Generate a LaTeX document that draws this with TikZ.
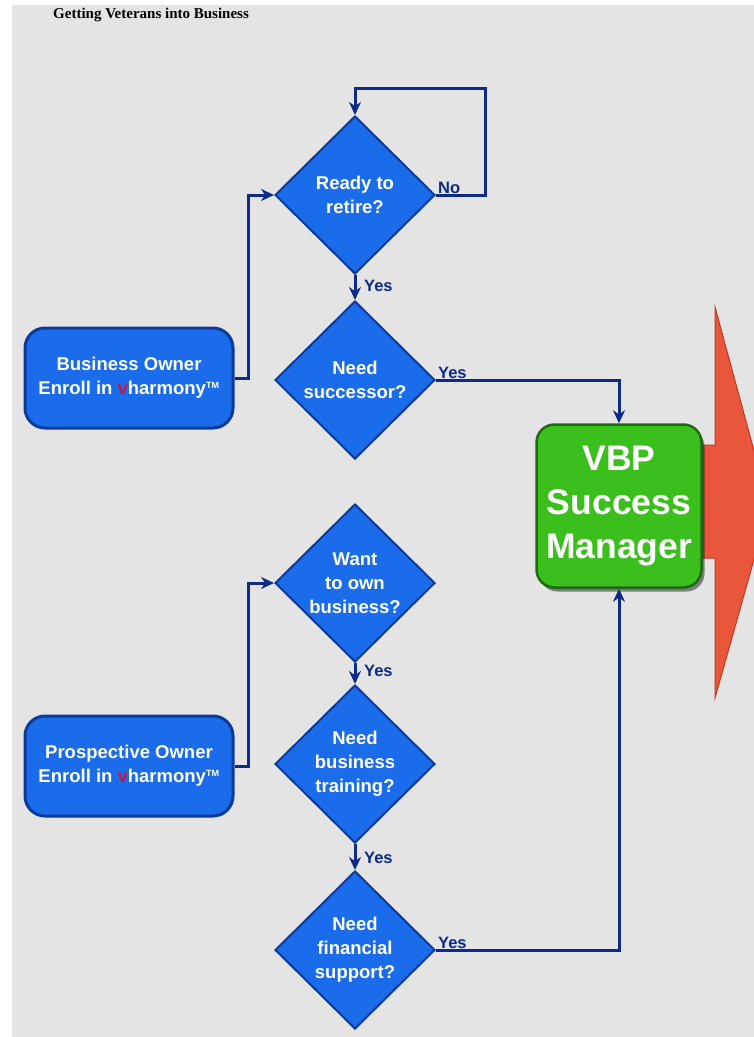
\documentclass[tikz,border=0pt]{standalone}
\usepackage{fontspec}
\setmainfont{Liberation Sans}
\newfontfamily\ttlfont{Liberation Serif}
\usetikzlibrary{shapes.geometric,arrows.meta,shadows,calc}
\definecolor{bg}{HTML}{E4E4E4}
\definecolor{bluefill}{HTML}{1B6CEA}
\definecolor{blueedge}{HTML}{0B3A9C}
\definecolor{navy}{HTML}{0C2A86}
\definecolor{greenfill}{HTML}{3BBF1C}
\definecolor{greenedge}{HTML}{1E6A12}
\definecolor{redfill}{HTML}{E8563C}
\definecolor{rededge}{HTML}{C0391F}
\definecolor{vred}{HTML}{C8143C}
\tikzset{
  startbox/.style={rectangle, rounded corners=20pt, fill=bluefill, draw=blueedge, line width=3pt,
    minimum width=208pt, minimum height=100pt, text=white, align=center, inner sep=0pt,
    font=\bfseries\fontsize{18.5}{24}\selectfont},
  decide/.style={diamond, fill=bluefill, draw=blueedge, line width=2pt, inner sep=0pt,
    minimum width=160pt, minimum height=158pt, text=white, align=center,
    font=\bfseries\fontsize{18.5}{24}\selectfont},
  mgrbox/.style={rectangle, rounded corners=18pt, fill=greenfill, draw=greenedge, line width=2.5pt,
    minimum width=165pt, minimum height=163pt, text=white, align=center, inner sep=0pt,
    font=\bfseries\fontsize{35.5}{44}\selectfont,
    drop shadow={shadow xshift=3pt, shadow yshift=-4pt, opacity=0.45, fill=black}},
  conn/.style={draw=navy, line width=3pt, -{Stealth[length=13pt,width=12pt]}},
  lbl/.style={text=navy, font=\bfseries\fontsize{16.5}{18}\selectfont, inner sep=0pt},
}
\begin{document}
\begin{tikzpicture}[x=1pt,y=-1pt]
\useasboundingbox (0,0) rectangle (754,1037);
\fill[white] (0,0) rectangle (754,1037);
\fill[bg] (12,5) rectangle (754,1037);
\node[font=\ttlfont\bfseries\fontsize{15}{16}\selectfont, anchor=west, inner sep=0pt] (title) at (53,15) {Getting Veterans into Business};

% red arrow
\begin{scope}
\clip (0,0) rectangle (754,1037);
\filldraw[fill=redfill, draw=rededge, line width=1pt]
  (700,445) -- (715,445) -- (715,307) -- (769,506) -- (715,698) -- (715,558) -- (700,558) -- cycle;
\end{scope}

% nodes
\node[startbox] (b1) at (129,378) {Business Owner\\Enroll in {\color{vred}v}harmony\textsuperscript{\fontsize{9}{9}\selectfont TM}};
\node[startbox] (b2) at (129,766) {Prospective Owner\\Enroll in {\color{vred}v}harmony\textsuperscript{\fontsize{9}{9}\selectfont TM}};
\node[decide] (d1) at (355,195) {Ready to\\retire?};
\node[decide] (d2) at (355,380) {Need\\successor?};
\node[decide] (d3) at (355,583) {Want\\to own\\business?};
\node[decide] (d4) at (355,764) {Need\\business\\training?};
\node[decide] (d5) at (355,950) {Need\\financial\\support?};
\node[mgrbox] (mgr) at (619,506) {VBP\\Success\\Manager};

% connectors
\coordinate (loop) at (485,88);
\draw[conn] (b1.east) -- ++(14,0) |- (d1.west);
\draw[conn] (d1.east) -| (loop) -| (d1.north);
\draw[conn] (d1.south) -- (d2.north);
\draw[conn] (d2.east) -| (mgr.north);
\draw[conn] (b2.east) -- ++(14,0) |- (d3.west);
\draw[conn] (d3.south) -- (d4.north);
\draw[conn] (d4.south) -- (d5.north);
\draw[conn] (d5.east) -| (mgr.south);

% labels
\node[lbl, anchor=south west] (lno) at ($(d1.east)+(2,-1)$) {No};
\node[lbl, anchor=west] (ly1) at ($(d1.south)+(9,11)$) {Yes};
\node[lbl, anchor=south west] (ly2) at ($(d2.east)+(2,-1)$) {Yes};
\node[lbl, anchor=west] (ly3) at ($(d3.south)+(9,8)$) {Yes};
\node[lbl, anchor=west] (ly4) at ($(d4.south)+(9,14)$) {Yes};
\node[lbl, anchor=south west] (ly5) at ($(d5.east)+(2,-1)$) {Yes};
\end{tikzpicture}
\end{document}
